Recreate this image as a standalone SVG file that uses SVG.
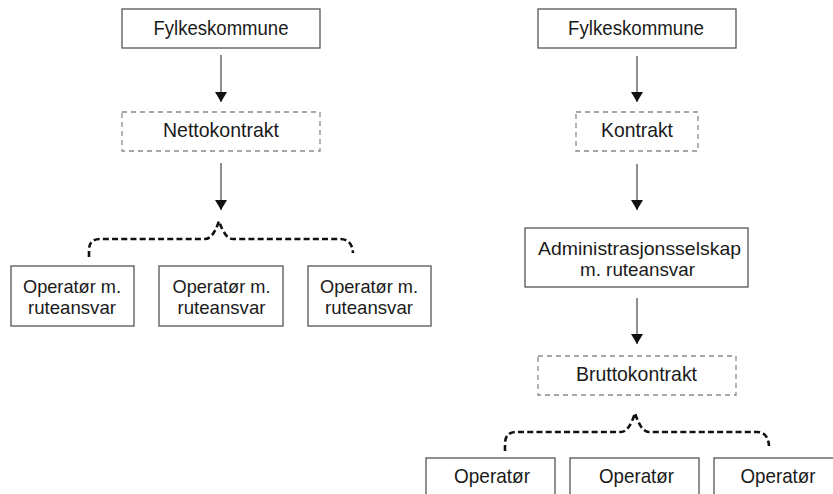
<svg xmlns="http://www.w3.org/2000/svg" width="833" height="494" viewBox="0 0 833 494">
<defs>
<style>
.box{fill:#fff;stroke:#555;stroke-width:1.3}
.dbox{fill:#fff;stroke:#8a8a8a;stroke-width:1.3;stroke-dasharray:5 4}
.t{font-family:"Liberation Sans",Arial,sans-serif;font-size:21px;fill:#1a1a1a;text-anchor:middle}
.t2{font-family:"Liberation Sans",Arial,sans-serif;font-size:19px;fill:#1a1a1a;text-anchor:middle}
.conn{stroke:#444;stroke-width:1.2;fill:none}
.brace{stroke:#111;stroke-width:2.6;fill:none;stroke-dasharray:6 3.2}
</style>
<marker id="ah" markerWidth="10" markerHeight="12" refX="10" refY="6" orient="auto" markerUnits="userSpaceOnUse">
<path d="M0,0 L10,6 L0,12 Z" fill="#111"/>
</marker>
</defs>
<rect width="833" height="494" fill="#fff"/>

<g id="connectors">
<line class="conn" x1="221" y1="55" x2="221" y2="102" marker-end="url(#ah)"/>
<line class="conn" x1="221" y1="163" x2="221" y2="210" marker-end="url(#ah)"/>
<line class="conn" x1="637" y1="56" x2="637" y2="102" marker-end="url(#ah)"/>
<line class="conn" x1="637" y1="164" x2="637" y2="210" marker-end="url(#ah)"/>
<line class="conn" x1="637" y1="298" x2="637" y2="344" marker-end="url(#ah)"/>
<path class="brace" d="M89 257 L89 250 Q89 239 100 239 L205 239 Q213 239 219 221 Q225 239 233 239 L340 239 Q352 239 353 253"/>
<path class="brace" d="M505 451 L505 444 Q505 432 516 432 L621 432 Q629 432 635 413 Q641 432 649 432 L757 432 Q768 432 769 446"/>
</g>

<g id="fylke-left">
<rect class="box" x="122" y="9" width="198" height="39"/>
<text class="t" x="221" y="35" textLength="135" lengthAdjust="spacingAndGlyphs">Fylkeskommune</text>
</g>
<g id="netto">
<rect class="dbox" x="122" y="112" width="198" height="39"/>
<text class="t" x="221" y="137" textLength="116" lengthAdjust="spacingAndGlyphs">Nettokontrakt</text>
</g>
<g id="op-left-1">
<rect class="box" x="11" y="266" width="123" height="60"/>
<text class="t2" x="72" y="293" textLength="98" lengthAdjust="spacingAndGlyphs">Operatør m.</text>
<text class="t2" x="72" y="314" textLength="88" lengthAdjust="spacingAndGlyphs">ruteansvar</text>
</g>
<g id="op-left-2">
<rect class="box" x="159" y="266" width="124" height="60"/>
<text class="t2" x="221.5" y="293" textLength="98" lengthAdjust="spacingAndGlyphs">Operatør m.</text>
<text class="t2" x="221.5" y="314" textLength="88" lengthAdjust="spacingAndGlyphs">ruteansvar</text>
</g>
<g id="op-left-3">
<rect class="box" x="308" y="266" width="123" height="60"/>
<text class="t2" x="369" y="293" textLength="98" lengthAdjust="spacingAndGlyphs">Operatør m.</text>
<text class="t2" x="369" y="314" textLength="88" lengthAdjust="spacingAndGlyphs">ruteansvar</text>
</g>

<g id="fylke-right">
<rect class="box" x="538" y="9" width="198" height="39"/>
<text class="t" x="636" y="35" textLength="136" lengthAdjust="spacingAndGlyphs">Fylkeskommune</text>
</g>
<g id="kontrakt">
<rect class="dbox" x="576" y="112" width="122" height="39"/>
<text class="t" x="637" y="137" textLength="72" lengthAdjust="spacingAndGlyphs">Kontrakt</text>
</g>
<g id="admin">
<rect class="box" x="525" y="228" width="223" height="59"/>
<text class="t2" x="639.5" y="255" textLength="203" lengthAdjust="spacingAndGlyphs">Administrasjonsselskap</text>
<text class="t2" x="637.5" y="276" textLength="115" lengthAdjust="spacingAndGlyphs">m. ruteansvar</text>
</g>
<g id="brutto">
<rect class="dbox" x="538" y="356" width="198" height="39"/>
<text class="t" x="636.5" y="381" textLength="121" lengthAdjust="spacingAndGlyphs">Bruttokontrakt</text>
</g>
<g id="op-right-1">
<rect class="box" x="426" y="458" width="129" height="60"/>
<text class="t" x="492" y="483" textLength="76" lengthAdjust="spacingAndGlyphs">Operatør</text>
</g>
<g id="op-right-2">
<rect class="box" x="570" y="458" width="129" height="60"/>
<text class="t" x="636.5" y="483" textLength="75" lengthAdjust="spacingAndGlyphs">Operatør</text>
</g>
<g id="op-right-3">
<rect class="box" x="714" y="458" width="129" height="60"/>
<text class="t" x="778" y="483" textLength="75" lengthAdjust="spacingAndGlyphs">Operatør</text>
</g>
</svg>
